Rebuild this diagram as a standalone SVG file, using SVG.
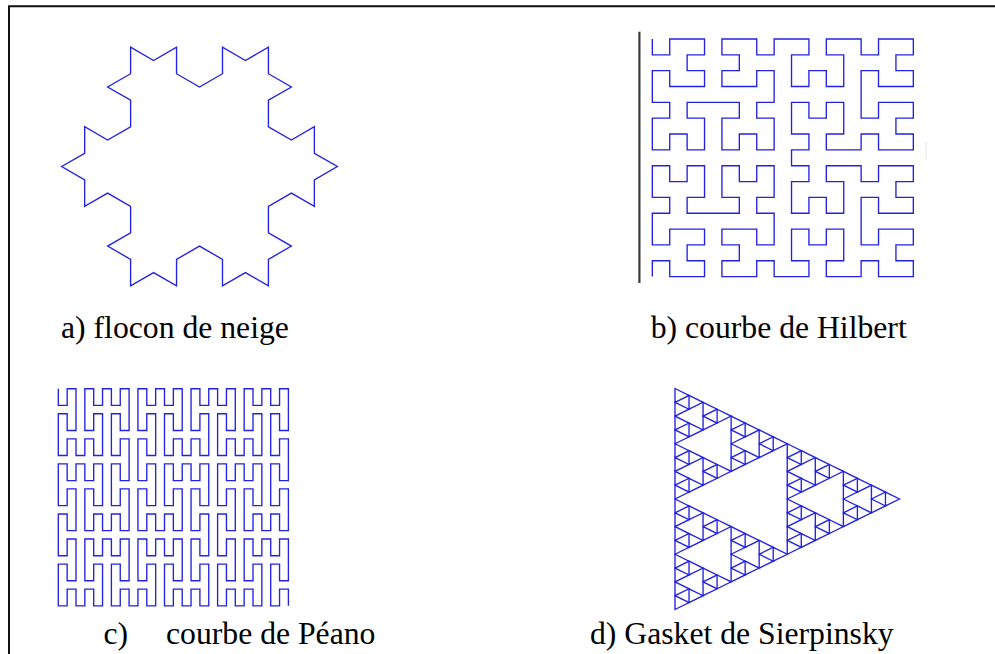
<svg xmlns="http://www.w3.org/2000/svg" width="995" height="654" viewBox="0 0 995 654">
<style>
.f{fill:none;stroke:#2222e4;stroke-width:1.35;stroke-linejoin:miter}
.n{vector-effect:non-scaling-stroke}
.lbl{font-family:"Liberation Serif","Times New Roman",serif;font-size:31.7px;fill:#000}
</style>
<defs>
<path id="s0" class="f" d="M0,0 L0,13.81 L14.03,6.906 Z"/>
<g id="s1"><use href="#s0"/><use href="#s0" y="13.81"/><use href="#s0" x="14.03" y="6.906"/></g>
<g id="s2"><use href="#s1"/><use href="#s1" y="27.625"/><use href="#s1" x="28.06" y="13.81"/></g>
<g id="s3"><use href="#s2"/><use href="#s2" y="55.25"/><use href="#s2" x="56.12" y="27.625"/></g>
<g id="s4"><use href="#s3"/><use href="#s3" y="110.5"/><use href="#s3" x="112.25" y="55.25"/></g>
</defs>
<rect width="995" height="654" fill="#fff"/>
<g id="frame"><path d="M9,654 V6.2 H995" fill="none" stroke="#111" stroke-width="2"/></g>

<g id="koch">
<path class="f" d="M130.6,47.2
l22.97,13.26 l22.97,-13.26 l0,26.52 l22.97,13.26 l22.97,-13.26 l0,-26.52 l22.97,13.26 l22.97,-13.26 l0,26.52 l22.97,13.26 l-22.97,13.26 l0,26.52 l22.97,13.26 l22.97,-13.26 l0,26.52 l22.97,13.26
l-22.97,13.26 l0,26.52 l-22.97,-13.26 l-22.97,13.26 l0,26.52 l22.97,13.26 l-22.97,13.26 l0,26.52 l-22.97,-13.26 l-22.97,13.26 l0,-26.52 l-22.97,-13.26 l-22.97,13.26 l0,26.52 l-22.97,-13.26 l-22.97,13.26
l0,-26.52 l-22.97,-13.26 l22.97,-13.26 l0,-26.52 l-22.97,-13.26 l-22.97,13.26 l0,-26.52 l-22.97,-13.26 l22.97,-13.26 l0,-26.52 l22.97,13.26 l22.97,-13.26 l0,-26.52 l-22.97,-13.26 l22.97,-13.26 l0,-26.52 z"/>
</g>

<g id="hilbert">
<line x1="639.4" y1="31.7" x2="639.4" y2="283" stroke="#3a3a3a" stroke-width="2.2"/>
<line x1="926" y1="142" x2="926" y2="160" stroke="#e4e4e4" stroke-width="1"/>
<path class="f n" transform="translate(652.33,39) scale(17.4,15.84)" d="M0,0
v1h1v-1h2v1h-1v1h1v1h-2v-1h-1v1 v1 h1v1h-1v2h1v-1h1v1h1v-2h-1v-1h1 h1 h1v1h-1v2h1v-1h1v1h1v-2h-1v-1h1 v-1 v-1h-1v1h-2v-1h1v-1h-1v-1h2v1h1v-1
h1
h1v1h-1v2h1v-1h1v1h1v-2h-1v-1h1 h1 v1h1v-1h2v1h-1v1h1v1h-2v-1h-1v1 v1 v1h1v-1h2v1h-1v1h1v1h-2v-1h-1v1 h-1 h-1v-1h1v-2h-1v1h-1v-1h-1v2h1v1h-1
v1
h1v1h-1v2h1v-1h1v1h1v-2h-1v-1h1 h1 v1h1v-1h2v1h-1v1h1v1h-2v-1h-1v1 v1 v1h1v-1h2v1h-1v1h1v1h-2v-1h-1v1 h-1 h-1v-1h1v-2h-1v1h-1v-1h-1v2h1v1h-1
h-1
v-1h-1v1h-2v-1h1v-1h-1v-1h2v1h1v-1 v-1 h-1v-1h1v-2h-1v1h-1v-1h-1v2h1v1h-1 h-1 h-1v-1h1v-2h-1v1h-1v-1h-1v2h1v1h-1 v1 v1h1v-1h2v1h-1v1h1v1h-2v-1h-1v1"/>
</g>

<g id="peano">
<path class="f n" transform="translate(58.3,388.7) scale(8.85,8.35)" d="M0,0
v2h1v-2h1v2 v1 v2h-1v-2h-1v2 v1 v2h1v-2h1v2 h1 v-2h1v2h1v-2 v-1 v-2h-1v2h-1v-2 v-1 v-2h1v2h1v-2 h1 v2h1v-2h1v2 v1 v2h-1v-2h-1v2 v1 v2h1v-2h1v2
v1
v2h-1v-2h-1v2 v1 v2h1v-2h1v2 v1 v2h-1v-2h-1v2 h-1 v-2h-1v2h-1v-2 v-1 v-2h1v2h1v-2 v-1 v-2h-1v2h-1v-2 h-1 v2h-1v-2h-1v2 v1 v2h1v-2h1v2 v1 v2h-1v-2h-1v2
v1
v2h1v-2h1v2 v1 v2h-1v-2h-1v2 v1 v2h1v-2h1v2 h1 v-2h1v2h1v-2 v-1 v-2h-1v2h-1v-2 v-1 v-2h1v2h1v-2 h1 v2h1v-2h1v2 v1 v2h-1v-2h-1v2 v1 v2h1v-2h1v2
h1
v-2h1v2h1v-2 v-1 v-2h-1v2h-1v-2 v-1 v-2h1v2h1v-2 h1 v2h1v-2h1v2 v1 v2h-1v-2h-1v2 v1 v2h1v-2h1v2 h1 v-2h1v2h1v-2 v-1 v-2h-1v2h-1v-2 v-1 v-2h1v2h1v-2
v-1
v-2h-1v2h-1v-2 v-1 v-2h1v2h1v-2 v-1 v-2h-1v2h-1v-2 h-1 v2h-1v-2h-1v2 v1 v2h1v-2h1v2 v1 v2h-1v-2h-1v2 h-1 v-2h-1v2h-1v-2 v-1 v-2h1v2h1v-2 v-1 v-2h-1v2h-1v-2
v-1
v-2h1v2h1v-2 v-1 v-2h-1v2h-1v-2 v-1 v-2h1v2h1v-2 h1 v2h1v-2h1v2 v1 v2h-1v-2h-1v2 v1 v2h1v-2h1v2 h1 v-2h1v2h1v-2 v-1 v-2h-1v2h-1v-2 v-1 v-2h1v2h1v-2
h1
v2h1v-2h1v2 v1 v2h-1v-2h-1v2 v1 v2h1v-2h1v2 h1 v-2h1v2h1v-2 v-1 v-2h-1v2h-1v-2 v-1 v-2h1v2h1v-2 h1 v2h1v-2h1v2 v1 v2h-1v-2h-1v2 v1 v2h1v-2h1v2
v1
v2h-1v-2h-1v2 v1 v2h1v-2h1v2 v1 v2h-1v-2h-1v2 h-1 v-2h-1v2h-1v-2 v-1 v-2h1v2h1v-2 v-1 v-2h-1v2h-1v-2 h-1 v2h-1v-2h-1v2 v1 v2h1v-2h1v2 v1 v2h-1v-2h-1v2
v1
v2h1v-2h1v2 v1 v2h-1v-2h-1v2 v1 v2h1v-2h1v2 h1 v-2h1v2h1v-2 v-1 v-2h-1v2h-1v-2 v-1 v-2h1v2h1v-2 h1 v2h1v-2h1v2 v1 v2h-1v-2h-1v2 v1 v2h1v-2h1v2"/>
</g>

<g id="sierpinski"><use href="#s4" x="675" y="388.5"/></g>

<g id="labels">
<text class="lbl" x="61" y="337.5">a) flocon de neige</text>
<text class="lbl" x="650.7" y="337.5">b) courbe de Hilbert</text>
<text class="lbl" x="103.4" y="644"><tspan>c)</tspan><tspan x="166">courbe de Péano</tspan></text>
<text class="lbl" x="590" y="644">d) Gasket de Sierpinsky</text>
</g>
</svg>
